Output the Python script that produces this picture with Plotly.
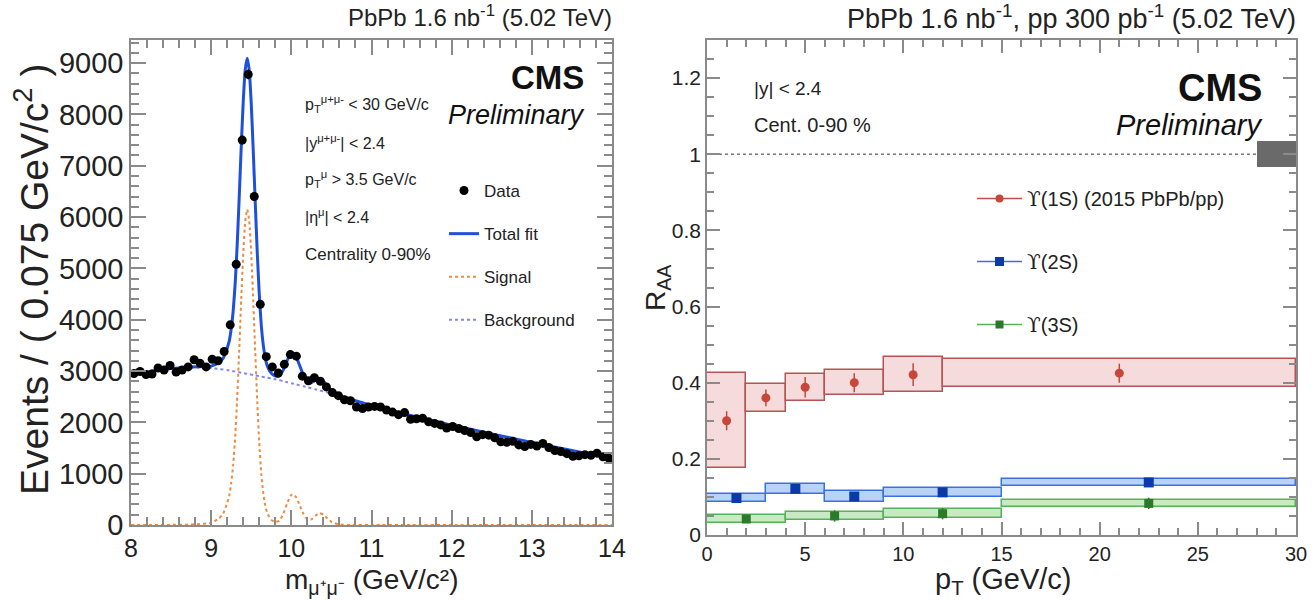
import numpy as np
import plotly.graph_objects as go

W, H = 1312, 602
FONT = "Liberation Sans, Arial, sans-serif"

# ---------------- Left panel: dimuon invariant mass ----------------
mass_centers = [8.0375, 8.1125, 8.1875, 8.2625, 8.3375, 8.4125, 8.4875, 8.5625, 8.6375, 8.7125,
                8.7875, 8.8625, 8.9375, 9.0125, 9.0875, 9.1625, 9.2375, 9.3125, 9.3875, 9.4625,
                9.5375, 9.6125, 9.6875, 9.7625, 9.8375, 9.9125, 9.9875, 10.0625, 10.1375, 10.2125,
                10.2875, 10.3625, 10.4375, 10.5125, 10.5875, 10.6625, 10.7375, 10.8125, 10.8875, 10.9625,
                11.0375, 11.1125, 11.1875, 11.2625, 11.3375, 11.4125, 11.4875, 11.5625, 11.6375, 11.7125,
                11.7875, 11.8625, 11.9375, 12.0125, 12.0875, 12.1625, 12.2375, 12.3125, 12.3875, 12.4625,
                12.5375, 12.6125, 12.6875, 12.7625, 12.8375, 12.9125, 12.9875, 13.0625, 13.1375, 13.2125,
                13.2875, 13.3625, 13.4375, 13.5125, 13.5875, 13.6625, 13.7375, 13.8125, 13.8875, 13.9625]
events = [2950, 2990, 2930, 2940, 3060, 3020, 3110, 2980, 3020, 3080,
          3220, 3150, 3080, 3230, 3200, 3380, 3900, 5080, 7500, 8780,
          6400, 4300, 3280, 3080, 2960, 3130, 3320, 3290, 2900, 2810,
          2870, 2800, 2690, 2580, 2520, 2440, 2420, 2300, 2270, 2300,
          2310, 2300, 2240, 2200, 2150, 2190, 2060, 2070, 2080, 2010,
          1980, 1950, 1890, 1920, 1880, 1840, 1800, 1720, 1760, 1750,
          1700, 1620, 1610, 1630, 1560, 1530, 1570, 1540, 1590, 1510,
          1450, 1430, 1390, 1340, 1350, 1370, 1360, 1400, 1330, 1300]

fit_mass = [8.0, 8.25, 8.5, 8.75, 9.0, 9.1, 9.15, 9.2, 9.225, 9.25, 9.275, 9.3, 9.325, 9.35,
            9.375, 9.4, 9.425, 9.45, 9.475, 9.5, 9.525, 9.55, 9.575, 9.6, 9.625, 9.65, 9.675,
            9.7, 9.75, 9.8, 9.85, 9.9, 9.95, 10.0, 10.03, 10.06, 10.1, 10.15, 10.2, 10.25,
            10.3, 10.35, 10.4, 10.45, 10.5, 10.6, 10.75, 11.0, 11.5, 12.0, 12.5, 13.0, 13.5, 14.0]
signal_fit = [0, 0, 2, 10, 40, 130, 220, 430, 570, 820, 1180, 1730, 2490, 3420,
              4400, 5290, 5920, 6150, 5920, 5280, 4370, 3360, 2400, 1600, 1000, 620, 380,
              230, 100, 60, 80, 220, 430, 590, 595, 540, 400, 220, 110, 110,
              180, 230, 200, 130, 60, 10, 0, 0, 0, 0, 0, 0, 0, 0]
background_fit = [2930, 2995, 3045, 3070, 3055, 3040, 3030, 3020, 3012, 3005, 2997, 2990, 2982, 2975,
                  2967, 2960, 2952, 2945, 2937, 2930, 2922, 2915, 2907, 2900, 2892, 2885, 2877,
                  2870, 2855, 2840, 2822, 2803, 2783, 2763, 2751, 2739, 2723, 2703, 2683, 2663,
                  2643, 2623, 2603, 2583, 2560, 2515, 2445, 2330, 2130, 1945, 1775, 1610, 1450, 1290]
total_fit = list(np.array(signal_fit) + np.array(background_fit))

# ---------------- Right panel: R_AA vs pT ----------------
pt_1s = [1, 3, 5, 7.5, 10.5, 21]
pt_1s_lo = [0, 2, 4, 6, 9, 12]
pt_1s_hi = [2, 4, 6, 9, 12, 30]
raa_1s = [0.300, 0.360, 0.388, 0.400, 0.421, 0.425]
stat_1s = [0.025, 0.022, 0.027, 0.025, 0.030, 0.025]
sys_1s = [0.125, 0.036, 0.036, 0.033, 0.046, 0.037]

pt_2s = [1.5, 4.5, 7.5, 12, 22.5]
pt_2s_lo = [0, 3, 6, 9, 15]
pt_2s_hi = [3, 6, 9, 15, 30]
raa_2s = [0.097, 0.121, 0.101, 0.112, 0.138]
stat_2s = [0.008, 0.009, 0.009, 0.008, 0.011]
sys_2s = [0.011, 0.0135, 0.014, 0.012, 0.009]

pt_3s = [2, 6.5, 12, 22.5]
pt_3s_lo = [0, 4, 9, 15]
pt_3s_hi = [4, 9, 15, 30]
raa_3s = [0.042, 0.050, 0.056, 0.083]
stat_3s = [0.010, 0.015, 0.015, 0.015]
sys_3s = [0.010, 0.011, 0.011, 0.009]

global_unc_pt = [28, 30]
global_unc = 0.034

# ---------------- Layout geometry (pixels) ----------------
LX0, LX1, LY0, LY1 = 131, 612, 40, 525
RX0, RX1, RY0, RY1 = 707, 1296, 40, 535


def px(x):
    return x / W


def py(y):
    return 1 - y / H


fig = go.Figure()

# Left panel traces
fig.add_trace(go.Scatter(x=fit_mass, y=signal_fit, mode="lines", name="Signal",
                         line=dict(color="#ee8a40", width=2, dash="dot", shape="spline", smoothing=0.5),
                         xaxis="x", yaxis="y", legend="legend", legendgroup="sig", legendrank=3))
fig.add_trace(go.Scatter(x=fit_mass, y=background_fit, mode="lines", name="Background",
                         line=dict(color="#7f86ee", width=2, dash="dot", shape="spline", smoothing=0.5),
                         xaxis="x", yaxis="y", legend="legend", legendgroup="bkg", legendrank=4))
fig.add_trace(go.Scatter(x=fit_mass, y=total_fit, mode="lines", name="Total fit",
                         line=dict(color="#1f50d8", width=3, shape="spline", smoothing=0.5),
                         xaxis="x", yaxis="y", legend="legend", legendgroup="tot", legendrank=2))
fig.add_trace(go.Scatter(x=mass_centers, y=events, mode="markers", name="Data",
                         marker=dict(color="black", size=9),
                         error_y=dict(type="data", array=list(np.sqrt(events)), color="black",
                                      thickness=1.5, width=0),
                         xaxis="x", yaxis="y", legend="legend", legendgroup="data", legendrank=1))

# Right panel: systematic boxes
box_styles = [
    (pt_1s_lo, pt_1s_hi, raa_1s, sys_1s, "rgba(240,200,200,0.65)", "#b45454"),
    (pt_2s_lo, pt_2s_hi, raa_2s, sys_2s, "rgba(160,195,245,0.75)", "#3a70e0"),
    (pt_3s_lo, pt_3s_hi, raa_3s, sys_3s, "rgba(180,225,175,0.75)", "#58b058"),
]
for lo, hi, v, s, fill, edge in box_styles:
    lo_a, hi_a, v_a, s_a = map(np.array, (lo, hi, v, s))
    fig.add_trace(go.Bar(x=(lo_a + hi_a) / 2, width=hi_a - lo_a, base=v_a - s_a, y=2 * s_a,
                         marker=dict(color=fill, line=dict(color=edge, width=1.5)),
                         showlegend=False, xaxis="x2", yaxis="y2", hoverinfo="skip"))

# global uncertainty box
fig.add_trace(go.Bar(x=[np.mean(global_unc_pt)], width=[global_unc_pt[1] - global_unc_pt[0]],
                     base=[1 - global_unc], y=[2 * global_unc],
                     marker=dict(color="#6a6a6a", line=dict(color="#6a6a6a", width=0)),
                     showlegend=False, xaxis="x2", yaxis="y2"))

# data points
UPS = "<span style='font-family:DejaVu Serif'>ϒ</span>"
pts = [
    (pt_1s, raa_1s, stat_1s, "#c8473a", "circle", 9, UPS + "(1S) (2015 PbPb/pp)", "#c05050", "u1"),
    (pt_2s, raa_2s, stat_2s, "#0b3aa8", "square", 10, UPS + "(2S)", "#3a70e0", "u2"),
    (pt_3s, raa_3s, stat_3s, "#2a7a2a", "square", 9, UPS + "(3S)", "#58b058", "u3"),
]
for i, (x, y, e, col, sym, sz, name, lcol, grp) in enumerate(pts):
    fig.add_trace(go.Scatter(x=x, y=y, mode="markers",
                             marker=dict(color=col, symbol=sym, size=sz),
                             error_y=dict(type="data", array=e, color=col, thickness=1.5, width=0),
                             showlegend=False, xaxis="x2", yaxis="y2"))
    fig.add_trace(go.Scatter(x=[None], y=[None], mode="lines+markers", name=name,
                             marker=dict(color=col, symbol=sym, size=sz - 1),
                             line=dict(color=lcol, width=1.5),
                             xaxis="x2", yaxis="y2", legend="legend2", legendgroup=grp,
                             legendrank=i + 1))

axis_common = dict(showline=True, linecolor="#8a8a8a", linewidth=1.5, mirror="allticks",
                   ticks="inside", tickcolor="#8a8a8a", tickwidth=1.5, showgrid=False,
                   zeroline=False, automargin=False)


def tf(size):
    return dict(family=FONT, color="#222222", size=size)


fig.update_layout(
    width=W, height=H,
    margin=dict(l=0, r=0, t=0, b=0),
    paper_bgcolor="white", plot_bgcolor="white",
    barmode="overlay", bargap=0,
    font=dict(family=FONT, color="#222222"),
    xaxis=dict(domain=[px(LX0), px(LX1)], range=[8, 14], dtick=1, tick0=8, ticklen=15,
               minor=dict(dtick=0.2, ticklen=8, ticks="inside", tickcolor="#8a8a8a", tickwidth=1.5),
               anchor="y", tickfont=tf(25), **axis_common),
    yaxis=dict(domain=[py(LY1), py(LY0)], range=[0, 9450], dtick=1000, tick0=0, ticklen=15,
               minor=dict(dtick=200, ticklen=8, ticks="inside", tickcolor="#8a8a8a", tickwidth=1.5),
               anchor="x", tickfont=tf(29), **axis_common),
    xaxis2=dict(domain=[px(RX0), px(RX1)], range=[0, 30], dtick=5, tick0=0, ticklen=13,
                minor=dict(dtick=1, ticklen=7, ticks="inside", tickcolor="#8a8a8a", tickwidth=1.5),
                anchor="y2", tickfont=tf(20), **axis_common),
    yaxis2=dict(domain=[py(RY1), py(RY0)], range=[0, 1.3], dtick=0.2, tick0=0, ticklen=13,
                minor=dict(dtick=0.05, ticklen=7, ticks="inside", tickcolor="#8a8a8a", tickwidth=1.5),
                anchor="x2", tickformat="~g", tickfont=tf(21), **axis_common),
    legend=dict(x=px(444), y=py(173), xanchor="left", yanchor="top", bgcolor="rgba(0,0,0,0)",
                font=dict(family=FONT, size=17, color="#222222"), traceorder="grouped",
                tracegroupgap=18),
    legend2=dict(x=px(972), y=py(179), xanchor="left", yanchor="top", bgcolor="rgba(0,0,0,0)",
                 font=dict(family=FONT, size=20, color="#222222"), traceorder="grouped",
                 tracegroupgap=34, itemwidth=45),
    shapes=[dict(type="line", xref="x2", yref="y2", x0=0, x1=30, y0=1, y1=1,
                 line=dict(color="#777777", width=1.5, dash="3px,3px"), layer="below")],
)

ann = []


def add_text(x, y, text, size, xanchor="left", yanchor="middle", angle=0, color="#222222"):
    ann.append(dict(x=px(x), y=py(y), xref="paper", yref="paper", text=text, showarrow=False,
                    xanchor=xanchor, yanchor=yanchor, textangle=angle,
                    font=dict(family=FONT, size=size, color=color)))


# Titles
add_text(614, 16, "PbPb 1.6 nb<sup>-1</sup> (5.02 TeV)", 24, xanchor="right")
add_text(1298, 17, "PbPb 1.6 nb<sup>-1</sup>, pp 300 pb<sup>-1</sup> (5.02 TeV)", 27, xanchor="right")

# CMS labels
add_text(586, 77, "<b>CMS</b>", 33, xanchor="right", color="#111111")
add_text(587, 115, "<i>Preliminary</i>", 27, xanchor="right", color="#111111")
add_text(1264, 88, "<b>CMS</b>", 38, xanchor="right", color="#111111")
add_text(1265, 125, "<i>Preliminary</i>", 29, xanchor="right", color="#111111")

# Left cuts text
add_text(303, 104, "p<sub>T</sub><sup>μ+μ-</sup> < 30 GeV/c", 16)
add_text(303, 142, "|y<sup>μ+μ-</sup>| < 2.4", 16)
add_text(303, 179, "p<sub>T</sub><sup>μ</sup> > 3.5 GeV/c", 16)
add_text(303, 216, "|η<sup>μ</sup>| < 2.4", 16)
add_text(303, 254, "Centrality 0-90%", 17)

# Right cuts text
add_text(752, 88, "|y| < 2.4", 19)
add_text(752, 125, "Cent. 0-90 %", 20)

# Axis titles
add_text(32, 280, "Events / ( 0.075 GeV/c<sup>2</sup> )", 39, xanchor="center", angle=-90)
add_text(372, 601, "m<sub>μ⁺μ⁻</sub> (GeV/c²)", 28, xanchor="center", yanchor="bottom")
add_text(657, 288, "R<sub>AA</sub>", 28, xanchor="center", angle=-90)
add_text(1003, 601, "p<sub>T</sub> (GeV/c)", 29, xanchor="center", yanchor="bottom")

fig.update_layout(annotations=ann)

fig.write_html("out.html")
